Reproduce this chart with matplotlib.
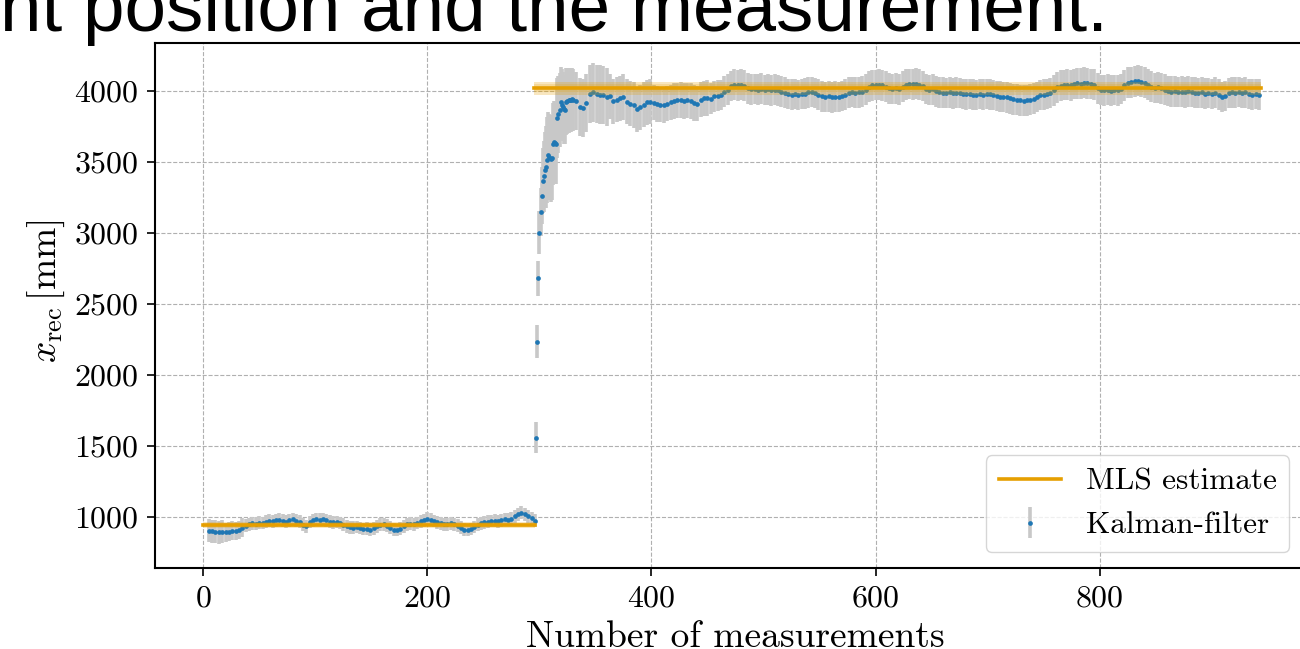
import numpy as np
import matplotlib
matplotlib.use('Agg')
import matplotlib.pyplot as plt

plt.rcParams['font.family'] = 'serif'
plt.rcParams['font.serif'] = ['cmr10']
plt.rcParams['mathtext.fontset'] = 'cm'
plt.rcParams['axes.formatter.use_mathtext'] = True

# Kalman filter, first position (every 3rd measurement)
seg1_x = np.arange(5, 297, 3)
seg1_y = [905, 900, 896, 893, 898, 892, 897, 905, 900, 910,
          925, 940, 948, 955, 952, 960, 958, 968, 975, 970,
          978, 982, 975, 968, 978, 985, 975, 968, 945, 935,
          965, 978, 985, 980, 986, 978, 968, 962, 965, 958,
          945, 935, 928, 925, 930, 922, 915, 918, 912, 920,
          935, 945, 948, 940, 925, 912, 908, 918, 935, 948,
          952, 950, 958, 970, 978, 988, 982, 972, 962, 955,
          950, 948, 955, 950, 940, 925, 912, 908, 915, 930,
          945, 955, 962, 968, 972, 975, 970, 978, 985, 980,
          988, 1005, 1020, 1030, 1018, 1005, 990, 975]
seg1_err = [80] * 5 + [65] * 6 + [45] * 87

# jump to the second position (every measurement)
jump_x = np.arange(297, 331)
jump_y = [1560, 2235, 2680, 3002, 3148, 3263, 3368, 3400, 3444, 3467,
          3514, 3549, 3535, 3520, 3530, 3627, 3640, 3636, 3625, 3810,
          3836, 3866, 3920, 3905, 3890, 3870, 3868, 3925, 3930, 3935,
          3940, 3937, 3945, 3937]
jump_err = [110, 115, 120, 150, 170, 200, 230, 250, 270, 290,
            300, 300, 300, 300, 300, 290, 290, 280, 280, 280,
            270, 260, 250, 250, 245, 240, 240, 235, 230, 230,
            225, 225, 220, 220]

# Kalman filter, second position (every 3rd measurement)
seg2_x = np.arange(333, 943, 3)
seg2_y = [3930, 3885, 3880, 3918, 3980, 3990, 3978, 3975, 3970, 3958,
          3962, 3928, 3940, 3948, 3958, 3925, 3912, 3902, 3870, 3885,
          3905, 3920, 3925, 3918, 3910, 3905, 3900, 3912, 3920, 3928,
          3935, 3937, 3930, 3935, 3928, 3915, 3912, 3940, 3948, 3950,
          3945, 3962, 3968, 3972, 3995, 4010, 4035, 4045, 4040, 4044,
          4038, 4020, 4012, 4015, 4010, 4016, 4008, 4012, 4005, 4010,
          4006, 3995, 3988, 3978, 3975, 3980, 3972, 3978, 3982, 3990,
          3992, 3985, 3975, 3962, 3958, 3962, 3955, 3960, 3958, 3965,
          3975, 3988, 3992, 3988, 3990, 3995, 4010, 4030, 4040, 4042,
          4045, 4040, 4030, 4018, 4015, 4020, 4012, 4030, 4045, 4050,
          4048, 4052, 4045, 4035, 4015, 4008, 4012, 3998, 3990, 3988,
          3985, 3990, 3983, 3988, 3985, 3980, 3976, 3978, 3975, 3972,
          3978, 3975, 3980, 3976, 3972, 3965, 3960, 3958, 3955, 3948,
          3942, 3938, 3935, 3932, 3934, 3938, 3945, 3958, 3972, 3975,
          3978, 3985, 4005, 4025, 4038, 4042, 4045, 4040, 4050, 4055,
          4052, 4058, 4055, 4050, 4045, 4020, 4008, 4005, 4010, 4002,
          4008, 4005, 4015, 4040, 4058, 4062, 4068, 4072, 4065, 4060,
          4045, 4030, 4022, 4025, 4018, 4010, 4000, 3995, 3998, 3992,
          3995, 3990, 3998, 3992, 3988, 3985, 3990, 3982, 3985, 3980,
          3988, 3975, 3958, 3965, 3985, 3990, 3988, 3992, 3985, 3990,
          3978, 3975, 3980, 3975]
seg2_err = [205] * 10 + [160] * 13 + [125] * 17 + [108] * 164

# MLS estimates for both positions
mls_start = [0, 295]
mls_end = [296, 944]
mls_val = [944, 4020]
mls_unc = [18, 45]

x = np.concatenate([seg1_x, jump_x, seg2_x])
y = np.array(seg1_y + jump_y + seg2_y)
err = np.array(seg1_err + jump_err + seg2_err)

fig = plt.figure(figsize=(13, 6.49), dpi=100)
ax = fig.add_axes([0.1192, 0.1248, 0.8923, 0.8089])

orange = '#e69f00'
for i in range(len(mls_val)):
    xs = [mls_start[i], mls_end[i]]
    ax.fill_between(xs, mls_val[i] - mls_unc[i], mls_val[i] + mls_unc[i],
                    color=orange, alpha=0.25, lw=0, zorder=4)
    ax.fill_between(xs, mls_val[i] - mls_unc[i] * 0.6, mls_val[i] + mls_unc[i] * 0.6,
                    color=orange, alpha=0.2, lw=0, zorder=4)
    ax.plot(xs, [mls_val[i]] * 2, color=orange, lw=2.6, zorder=5,
            label='MLS estimate' if i == 0 else None)

ax.errorbar(x, y, yerr=err, fmt='o', ms=3.4, color='#1f77b4', mec='none',
            ecolor='#c8c8c8', elinewidth=2.6, capsize=0, zorder=3,
            label='Kalman-filter')

ax.set_xlim(-43, 992)
ax.set_ylim(641, 4338)
ax.set_xticks([0, 200, 400, 600, 800])
ax.set_yticks([1000, 1500, 2000, 2500, 3000, 3500, 4000])
ax.grid(True, ls='--', lw=0.8, color='#b0b0b0')
ax.set_axisbelow(True)
ax.tick_params(labelsize=23, direction='out', length=6, width=1.2, pad=6)
for s in ax.spines.values():
    s.set_linewidth(1.5)

ax.set_xlabel('Number of measurements', fontsize=27, labelpad=6)
ax.set_ylabel(r'$x_\mathrm{rec}\,[\mathrm{mm}]$', fontsize=27)
ax.yaxis.set_label_coords(-0.076, 0.528)

ax.legend(loc='lower right', bbox_to_anchor=(0.978, 0.0305), borderaxespad=0,
          fontsize=22.5, framealpha=0.8, edgecolor='0.8', handlelength=2.0)

fig.text(0.0, 1 - 31 / 649, 'nt position and the measurement.',
         family='Liberation Sans', fontsize=53.8, ha='left', va='baseline')

fig.savefig('out.png', dpi=100)
